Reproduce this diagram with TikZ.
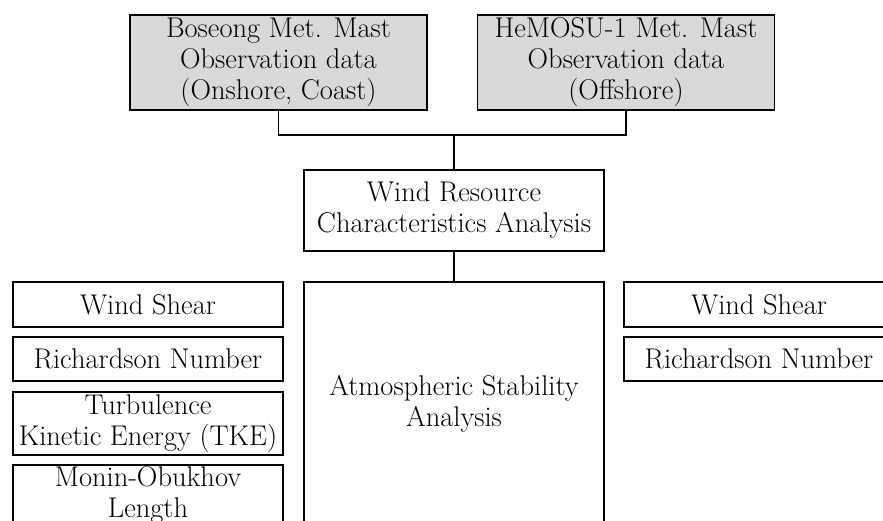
\documentclass[tikz,border=0pt]{standalone}
\usetikzlibrary{positioning}

\tikzset{
  box/.style={draw=black,line width=1.5pt,align=center,inner sep=0pt,
    font=\fontsize{28.5}{31}\selectfont},
  databox/.style={box,fill=black!15,minimum width=297,minimum height=95},
  itembox/.style={box,fill=white,minimum width=270}
}

\begin{document}
\begin{tikzpicture}[x=1pt,y=-1pt]

\clip (0,0) rectangle (883,521);
\fill[white] (0,0) rectangle (883,521);

% observation data
\node[databox] (bos) at (278.5,62.5) {Boseong Met. Mast\\Observation data\\(Onshore, Coast)};
\node[databox] (hem) at (626,62.5) {HeMOSU-1 Met. Mast\\Observation data\\(Offshore)};

% analysis
\node[box,minimum width=300,minimum height=81] (wra) at (454,210.5) {Wind Resource\\Characteristics Analysis};
\node[box,minimum width=300,minimum height=244] (asa) at (454,404) {Atmospheric Stability\\Analysis};

% onshore items
\node[itembox,minimum height=45] (ws1) at (148,304.5) {Wind Shear};
\node[itembox,minimum height=44] (rn1) at (148,359) {Richardson Number};
\node[itembox,minimum height=63] (tke) at (148,423.5) {Turbulence\\Kinetic Energy (TKE)};
\node[itembox,minimum height=63,text depth=9pt] (mol) at (148,496.5) {Monin-Obukhov\\Length};

% offshore items
\node[itembox,minimum height=45] (ws2) at (759,304.5) {Wind Shear};
\node[itembox,minimum height=44] (rn2) at (759,359) {Richardson Number};

% connectors
\coordinate (j) at (454,135);
\draw[line width=1.5pt] (bos.south) |- (j) -| (hem.south);
\draw[line width=1.5pt] (j) -- (wra.north);
\draw[line width=1.5pt] (wra.south) -- (asa.north);

\end{tikzpicture}
\end{document}
